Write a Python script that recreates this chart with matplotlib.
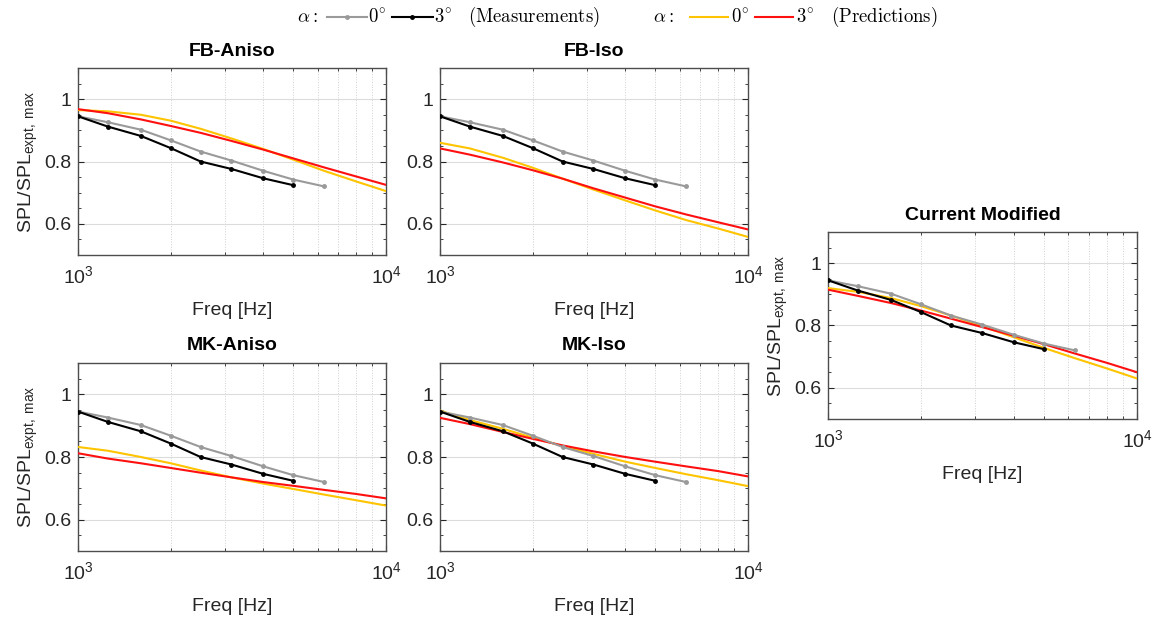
import numpy as np
import matplotlib
matplotlib.use('Agg')
import matplotlib.pyplot as plt
from matplotlib.lines import Line2D
from matplotlib.ticker import FixedLocator, NullFormatter, MultipleLocator

plt.rcParams['font.family'] = ['Liberation Sans', 'DejaVu Sans']
plt.rcParams['mathtext.fontset'] = 'custom'
plt.rcParams['mathtext.rm'] = 'Liberation Sans'
plt.rcParams['mathtext.sf'] = 'Liberation Sans'
plt.rcParams['mathtext.it'] = 'Liberation Sans:italic'

# measurement data (1/3 octave bands)
f_meas0 = [1000, 1250, 1600, 2000, 2500, 3150, 4000, 5000, 6300]
spl_meas0 = [0.945, 0.926, 0.902, 0.868, 0.832, 0.803, 0.770, 0.742, 0.720]
f_meas3 = [1000, 1250, 1600, 2000, 2500, 3150, 4000, 5000]
spl_meas3 = [0.945, 0.912, 0.882, 0.843, 0.800, 0.776, 0.746, 0.724]

# prediction curves
f_pred = [1000, 1250, 1600, 2000, 2500, 3150, 4000, 5000, 6300, 8000, 10000]
pred = {
    'FB-Aniso': ([0.965, 0.961, 0.950, 0.931, 0.905, 0.874, 0.840, 0.806, 0.770, 0.736, 0.705],
                 [0.968, 0.955, 0.935, 0.914, 0.892, 0.866, 0.838, 0.810, 0.781, 0.752, 0.725]),
    'FB-Iso': ([0.860, 0.842, 0.812, 0.780, 0.745, 0.710, 0.675, 0.643, 0.612, 0.585, 0.558],
               [0.842, 0.822, 0.797, 0.772, 0.745, 0.714, 0.684, 0.656, 0.630, 0.605, 0.582]),
    'MK-Aniso': ([0.832, 0.820, 0.800, 0.780, 0.757, 0.735, 0.715, 0.698, 0.680, 0.662, 0.645],
                 [0.812, 0.795, 0.780, 0.765, 0.750, 0.735, 0.720, 0.708, 0.695, 0.682, 0.668]),
    'MK-Iso': ([0.948, 0.918, 0.890, 0.862, 0.835, 0.810, 0.785, 0.765, 0.745, 0.726, 0.707],
               [0.925, 0.905, 0.880, 0.858, 0.837, 0.818, 0.800, 0.785, 0.770, 0.755, 0.738]),
    'Current Modified': ([0.920, 0.908, 0.888, 0.862, 0.832, 0.798, 0.762, 0.728, 0.695, 0.662, 0.630],
                         [0.915, 0.895, 0.872, 0.848, 0.822, 0.795, 0.767, 0.740, 0.710, 0.680, 0.650]),
}

W, H = 1160, 620
# panel boxes in pixels: left, right, top, bottom
boxes = {
    'FB-Aniso': (78, 386, 68, 255),
    'FB-Iso': (440, 748, 68, 255),
    'MK-Aniso': (78, 386, 363, 551),
    'MK-Iso': (440, 748, 363, 551),
    'Current Modified': (828, 1137, 232, 419),
}
ylabel_panels = ['FB-Aniso', 'MK-Aniso', 'Current Modified']

c_gray = '#9a9a9a'
c_black = '#000000'
c_yellow = '#ffc400'
c_red = '#ff1010'

fig = plt.figure(figsize=(W / 100, H / 100), dpi=100)

for name, (l, r, t, b) in boxes.items():
    ax = fig.add_axes([l / W, 1 - b / H, (r - l) / W, (b - t) / H])
    y0, y3 = pred[name]
    ax.plot(f_pred, y0, color=c_yellow, lw=1.5, zorder=3)
    ax.plot(f_pred, y3, color=c_red, lw=1.5, zorder=3)
    ax.plot(f_meas0, spl_meas0, color=c_gray, lw=1.5, marker='o', ms=2.5, zorder=4)
    ax.plot(f_meas3, spl_meas3, color=c_black, lw=1.5, marker='o', ms=2.5, zorder=5)

    ax.set_xscale('log')
    ax.set_xlim(1e3, 1e4)
    ax.set_ylim(0.5, 1.1)
    ax.xaxis.set_major_locator(FixedLocator([1e3, 1e4]))
    ax.set_xticklabels([r'$10^{3}$', r'$10^{4}$'])
    ax.xaxis.set_minor_locator(FixedLocator(np.arange(2000, 10000, 1000)))
    ax.xaxis.set_minor_formatter(NullFormatter())
    ax.set_yticks([0.6, 0.8, 1.0])
    ax.set_yticklabels(['0.6', '0.8', '1'])
    ax.yaxis.set_minor_locator(MultipleLocator(0.05))

    ax.grid(True, which='major', axis='y', color='#dcdcdc', lw=0.8)
    ax.grid(True, which='minor', axis='x', color='#d0d0d0', lw=0.7, ls=':')
    ax.set_axisbelow(True)
    ax.tick_params(which='both', direction='in', top=True, right=True,
                   color='#262626', labelsize=14, labelcolor='#262626')
    ax.tick_params(which='major', length=4, pad=5)
    ax.tick_params(which='minor', length=2)
    ax.tick_params(axis='x', which='major', pad=7)
    for s in ax.spines.values():
        s.set_color('#4d4d4d')
        s.set_linewidth(1.0)

    ax.set_title(name, fontsize=14, fontweight='bold', pad=9)
    ax.set_xlabel('Freq [Hz]', fontsize=14, labelpad=11, color='#262626')
    if name in ylabel_panels:
        ax.set_ylabel(r'SPL/SPL$_{\mathrm{expt,\ max}}$', fontsize=14, labelpad=3, color='#262626')

# legend at top, built from texts and line glyphs
ly = 1 - 17 / H
def ftext(x, s):
    fig.text(x / W, ly, s, fontsize=13.5, va='center', ha='left',
             math_fontfamily='cm', family='DejaVu Serif')

def fline(x0, x1, color, marker):
    xs = [x0 / W, (x0 + x1) / 2 / W, x1 / W]
    ln = Line2D(xs, [ly, ly, ly], transform=fig.transFigure, color=color, lw=1.5,
                marker='o' if marker else None, ms=2.5, markevery=[1])
    fig.add_artist(ln)

ftext(297, r'$\alpha:$')
fline(327, 367, c_gray, True)
ftext(368, r'$0^{\circ}$')
fline(392, 433, c_black, True)
ftext(434, r'$3^{\circ}$')
ftext(468, r'$\mathrm{(Measurements)}$')

ftext(653, r'$\alpha:$')
fline(690, 728, c_yellow, False)
ftext(731, r'$0^{\circ}$')
fline(755, 793, c_red, False)
ftext(796, r'$3^{\circ}$')
ftext(831, r'$\mathrm{(Predictions)}$')

fig.savefig('out.png', dpi=100)
